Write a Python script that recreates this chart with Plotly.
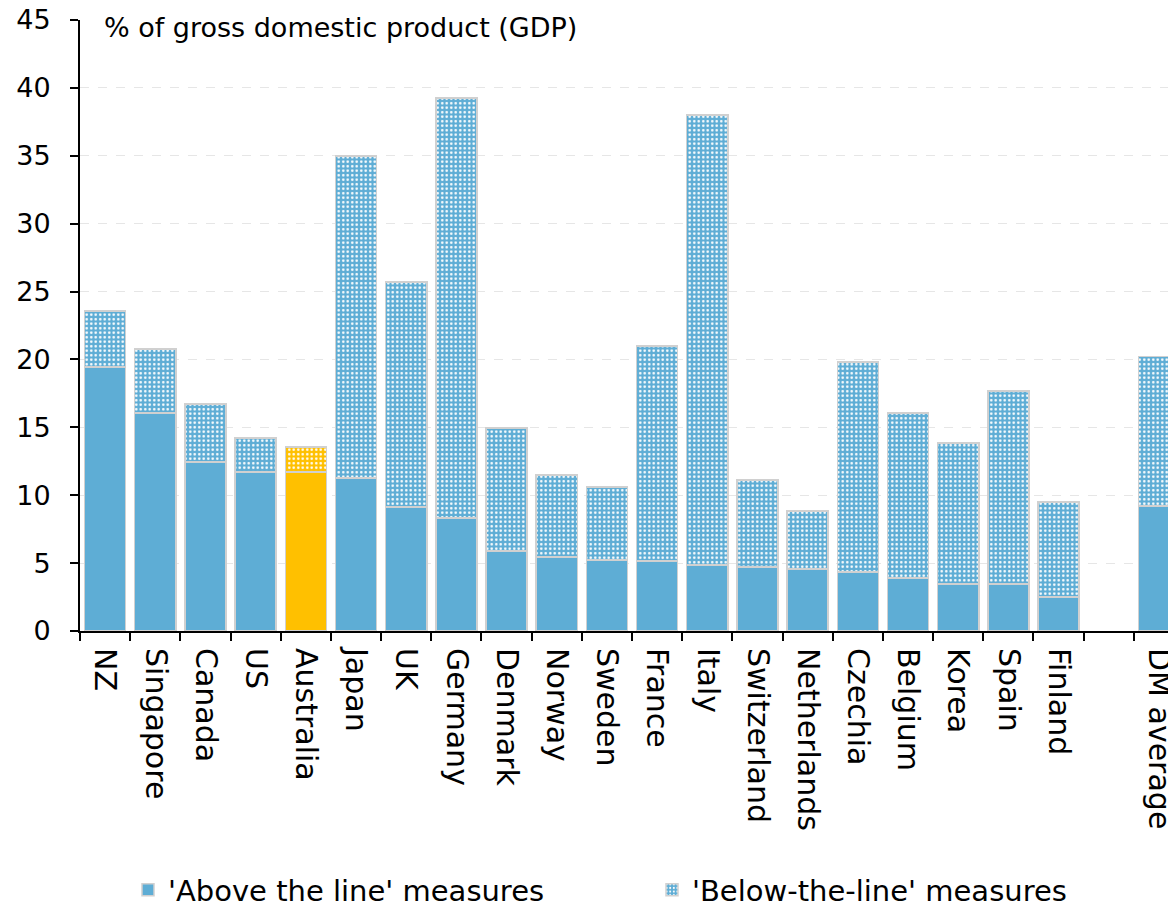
import plotly.graph_objects as go

countries = ["NZ", "Singapore", "Canada", "US", "Australia", "Japan", "UK", "Germany",
             "Denmark", "Norway", "Sweden", "France", "Italy", "Switzerland", "Netherlands",
             "Czechia", "Belgium", "Korea", "Spain", "Finland", " ", "DM average"]
above = [19.45, 16.05, 12.45, 11.72, 11.72, 11.26, 9.12, 8.31, 5.89, 5.45, 5.23, 5.16,
         4.86, 4.71, 4.57, 4.35, 3.90, 3.46, 3.46, 2.52, None, 9.22]
total = [23.57, 20.77, 16.72, 14.22, 13.55, 34.99, 25.70, 39.26, 14.95, 11.49, 10.60, 20.99,
         38.01, 11.12, 8.84, 19.82, 16.06, 13.85, 17.68, 9.49, None, 20.21]
below = [None if a is None else round(t - a, 2) for a, t in zip(above, total)]
y_ticks = [0, 5, 10, 15, 20, 25, 30, 35, 40, 45]

BLUE = "#5eadd5"
YELLOW = "#ffc000"
colors = [YELLOW if c == "Australia" else BLUE for c in countries]
FONT = "DejaVu Sans"

fig = go.Figure()
fig.add_trace(go.Bar(
    x=countries, y=above, name="'Above the line' measures",
    marker=dict(color=colors, line=dict(color="#d0d0d0", width=1.5)),
))
fig.add_trace(go.Bar(
    x=countries, y=below, name="'Below-the-line' measures",
    marker=dict(color=BLUE, line=dict(color="#d0d0d0", width=1.5),
                pattern=dict(shape=".", fillmode="replace", fgcolor="white",
                             bgcolor=colors, fgopacity=1, size=4.5, solidity=0.25)),
))

fig.update_layout(
    barmode="stack",
    bargap=0.18,
    width=1168, height=899,
    margin=dict(l=72, r=0, t=12, b=276),
    plot_bgcolor="white", paper_bgcolor="white",
    font=dict(family=FONT, size=28, color="black"),
    showlegend=True,
    legend=dict(orientation="h", x=0.0536, xanchor="left",
                yref="container", y=0.019, yanchor="middle",
                font=dict(size=29), entrywidth=479, traceorder="normal"),
    xaxis=dict(type="category", categoryorder="array", categoryarray=countries,
               range=[-0.5, 21.34], tickangle=90, showline=True, linecolor="black",
               linewidth=2, ticks="outside", ticklen=8, tickwidth=2, tickcolor="black",
               tickson="boundaries", showgrid=False, tickfont=dict(size=30),
               ticklabelstandoff=9, automargin=False),
    yaxis=dict(range=[0, 45], tickvals=y_ticks, showline=True, linecolor="black",
               linewidth=2, ticks="outside", ticklen=8, tickwidth=2, tickcolor="black",
               showgrid=True, gridcolor="#e6e6e6", griddash="dash", gridwidth=1,
               zeroline=False, tickfont=dict(size=27), ticklabelstandoff=14,
               ticklabeloverflow="allow", automargin=False),
    annotations=[dict(text="% of gross domestic product (GDP)", xref="paper", yref="paper",
                      x=0.020, y=0.987, xanchor="left", yanchor="middle", showarrow=False,
                      font=dict(size=27))],
)

fig.write_html("out.html")
